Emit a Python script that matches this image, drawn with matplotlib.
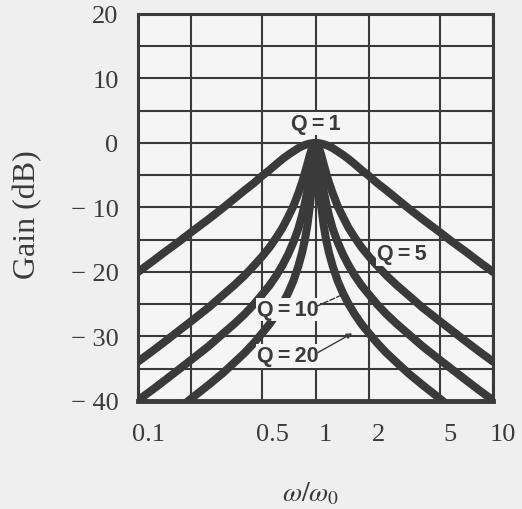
import numpy as np
import matplotlib.pyplot as plt
from matplotlib.transforms import ScaledTranslation

# frequency points (omega / omega0)
w = [0.1, 0.12, 0.14, 0.17, 0.2, 0.25, 0.3, 0.35, 0.4, 0.45, 0.5, 0.55, 0.6, 0.65,
     0.7, 0.75, 0.8, 0.84, 0.87, 0.9, 0.93, 0.95, 0.97, 0.985, 1.0,
     1.015, 1.031, 1.053, 1.075, 1.111, 1.149, 1.19, 1.25, 1.333, 1.429, 1.538, 1.667,
     1.818, 2.0, 2.222, 2.5, 2.857, 3.333, 4.0, 5.0, 5.882, 7.143, 8.333, 10.0]

gain_q1 = [-20.0, -18.4, -17.0, -15.3, -13.8, -11.8, -10.1, -8.6, -7.3, -6.2, -5.1, -4.2, -3.3, -2.5,
           -1.85, -1.3, -0.8, -0.5, -0.33, -0.19, -0.09, -0.05, -0.02, 0.0, 0.0,
           0.0, -0.02, -0.05, -0.09, -0.19, -0.33, -0.5, -0.8, -1.3, -1.85, -2.5, -3.3,
           -4.2, -5.1, -6.2, -7.3, -8.6, -10.1, -11.8, -13.8, -15.3, -17.0, -18.4, -20.0]
gain_q5 = [-33.9, -32.3, -30.9, -29.1, -27.6, -25.5, -23.6, -22.0, -20.5, -19.0, -17.6, -16.2, -14.7, -13.2,
           -11.5, -9.8, -7.8, -6.1, -4.7, -3.25, -1.8, -1.0, -0.4, -0.1, 0.0,
           -0.1, -0.4, -1.0, -1.8, -3.25, -4.7, -6.1, -7.8, -9.8, -11.5, -13.2, -14.7,
           -16.2, -17.6, -19.0, -20.5, -22.0, -23.6, -25.5, -27.6, -29.1, -30.9, -32.3, -33.9]
gain_q10 = [-39.9, -38.3, -36.9, -35.1, -33.6, -31.5, -29.6, -28.0, -26.5, -25.0, -23.5, -22.1, -20.6, -19.0,
            -17.3, -15.4, -13.3, -11.2, -9.4, -7.4, -4.9, -3.1, -1.4, -0.4, 0.0,
            -0.4, -1.4, -3.1, -4.9, -7.4, -9.4, -11.2, -13.3, -15.4, -17.3, -19.0, -20.6,
            -22.1, -23.5, -25.0, -26.5, -28.0, -29.6, -31.5, -33.6, -35.1, -36.9, -38.3, -39.9]
gain_q20 = [-45.9, -44.3, -42.9, -41.2, -39.6, -37.5, -35.7, -34.0, -32.5, -31.0, -29.5, -28.1, -26.6, -25.0,
            -23.3, -21.4, -19.1, -17.0, -15.1, -12.75, -9.7, -7.2, -4.0, -1.35, 0.0,
            -1.35, -4.0, -7.2, -9.7, -12.75, -15.1, -17.0, -19.1, -21.4, -23.3, -25.0, -26.6,
            -28.1, -29.5, -31.0, -32.5, -34.0, -35.7, -37.5, -39.6, -41.2, -42.9, -44.3, -45.9]

xgrid = [0.1, 0.2, 0.5, 1, 2, 5, 10]
xlabels = ['0.1', '', '0.5', '1', '2', '5', '10']
ygrid = list(range(-40, 21, 5))
ylabels = ['\u2212 40', '', '\u2212 30', '', '\u2212 20', '', '\u2212 10', '', '0', '', '10', '', '20']

bg = '#efefef'
ink = '#3a3a3a'

plt.rcParams['mathtext.fontset'] = 'stix'

fig = plt.figure(figsize=(5.22, 5.10), dpi=100, facecolor=bg)
ax = fig.add_axes([0.2644, 0.2118, 0.6801, 0.7588])
ax.set_facecolor('#f5f5f5')

ax.set_xscale('log')
ax.set_xlim(0.1, 10)
ax.set_ylim(-40, 20)

ax.set_xticks(xgrid)
ax.set_xticklabels(xlabels)
ax.xaxis.set_minor_locator(plt.NullLocator())
ax.set_yticks(ygrid)
ax.set_yticklabels(ylabels)
ax.tick_params(length=0, labelsize=19, colors=ink)
ax.tick_params(axis='y', pad=14)
ax.tick_params(axis='x', pad=16)
for lab in ax.get_xticklabels() + ax.get_yticklabels():
    lab.set_fontfamily('Liberation Serif')
shift = ScaledTranslation(10 / 100, 0, fig.dpi_scale_trans)
for lab in ax.get_xticklabels():
    lab.set_transform(lab.get_transform() + shift)

ax.grid(True, color=ink, linewidth=1.5)
ax.set_axisbelow(True)
for side in ['left', 'right', 'top']:
    ax.spines[side].set_linewidth(2.2)
    ax.spines[side].set_color(ink)
ax.spines['bottom'].set_linewidth(3.5)
ax.spines['bottom'].set_color(ink)

for g in [gain_q1, gain_q5, gain_q10, gain_q20]:
    ax.plot(w, g, color=ink, linewidth=5.8, solid_joinstyle='round',
            solid_capstyle='round', zorder=3)

lbl = dict(fontsize=15.5, fontweight='bold',
           family=['Liberation Sans Narrow', 'Liberation Sans', 'DejaVu Sans'],
           color=ink, ha='center', va='center', zorder=5)
box = dict(facecolor='#f5f5f5', edgecolor='none', pad=1.0)
ax.text(1.0, 3.0, 'Q\u2009=\u20091', bbox=box, **lbl)
ax.text(3.06, -17.2, 'Q\u2009=\u20095', bbox=box, **lbl)
ax.text(0.70, -25.8, 'Q\u2009=\u200910', bbox=box, **lbl)
ax.text(0.70, -33.0, 'Q\u2009=\u200920', bbox=box, **lbl)
ax.annotate('', xy=(1.56, -23.0), xytext=(0.98, -25.5),
            arrowprops=dict(arrowstyle='-|>', color=ink, lw=1.0, linestyle='--',
                            mutation_scale=8), zorder=5)
ax.annotate('', xy=(1.66, -29.3), xytext=(1.0, -32.7),
            arrowprops=dict(arrowstyle='-|>', color=ink, lw=1.0, mutation_scale=8), zorder=5)

ax.set_ylabel('Gain (dB)', fontsize=23, family='Liberation Serif', color=ink)
ax.yaxis.set_label_coords(-0.310, 0.483)
ax.yaxis.label.set_va('center')
ax.set_xlabel(r'$\omega/\omega_0$', fontsize=20, color=ink)
ax.xaxis.set_label_coords(0.487, -0.235)
ax.xaxis.label.set_va('center')

fig.savefig('out.png', dpi=100, facecolor=bg)
